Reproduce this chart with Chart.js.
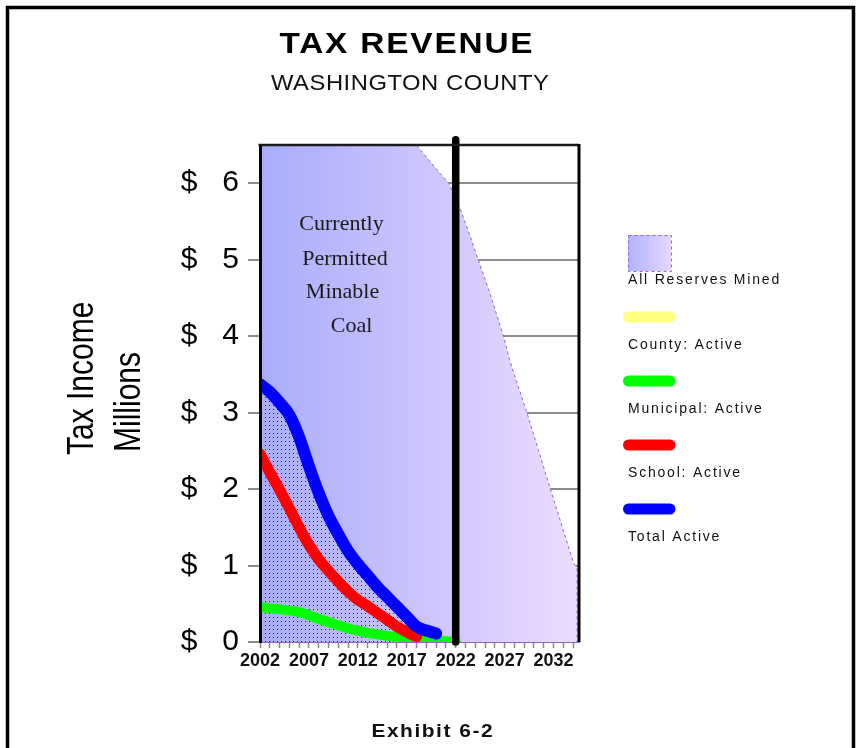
<!DOCTYPE html>
<html>
<head>
<meta charset="utf-8">
<title>Tax Revenue - Washington County</title>
<script src="https://cdn.jsdelivr.net/npm/chart.js@4"></script>
<style>
  html, body { margin: 0; padding: 0; background: #fff; }
  canvas { display: block; }
</style>
</head>
<body>
<canvas id="chart" width="857" height="748"></canvas>
<script>
// Annual tax income from active mining, millions of dollars
const totalYears = [2002, 2003, 2004, 2005, 2006, 2007, 2008, 2009, 2010, 2011, 2012, 2013, 2014, 2015, 2016, 2017, 2018, 2019, 2020];
const totalActive = [3.37, 3.27, 3.13, 2.97, 2.68, 2.30, 1.95, 1.65, 1.41, 1.19, 1.02, 0.87, 0.72, 0.59, 0.46, 0.33, 0.20, 0.15, 0.11];

const schoolYears = [2002, 2003, 2004, 2005, 2006, 2007, 2008, 2009, 2010, 2011, 2012, 2013, 2014, 2015, 2016, 2017, 2018];
const schoolActive = [2.46, 2.22, 1.99, 1.75, 1.50, 1.27, 1.08, 0.93, 0.79, 0.66, 0.55, 0.47, 0.38, 0.29, 0.20, 0.13, 0.07];

const localYears = [2002, 2003, 2004, 2005, 2006, 2007, 2008, 2009, 2010, 2011, 2012, 2013, 2014, 2015, 2016, 2017, 2018, 2019, 2020, 2021, 2022];
const municipalActive = [0.46, 0.44, 0.43, 0.41, 0.39, 0.35, 0.30, 0.26, 0.22, 0.18, 0.15, 0.12, 0.10, 0.08, 0.07, 0.05, 0.04, 0.03, 0.02, 0.01, 0.00];
const countyActive = [0.45, 0.43, 0.42, 0.40, 0.38, 0.34, 0.29, 0.25, 0.21, 0.17, 0.14, 0.11, 0.09, 0.07, 0.06, 0.04, 0.03, 0.02, 0.01, 0.01, 0.00];

// Outline of the "all reserves mined" projection
const reserveYears = [2002, 2002, 2018, 2019.4, 2020.4, 2021.3, 2022.5, 2023.5, 2024.3, 2025.5, 2026.9, 2027.6, 2029.3, 2031.7, 2034.05, 2034.4, 2034.4];
const reserveValues = [0, 6.5, 6.5, 6.28, 6.13, 6.00, 5.65, 5.30, 5.00, 4.56, 3.99, 3.65, 2.99, 1.99, 1.03, 0.97, 0];

// End of currently permitted mining
const permitEndYear = 2022;
const permitMarkerTop = 6.57;

// Axes
const xMin = 2002;
const xMax = 2034.6;
const labelYears = [2002, 2007, 2012, 2017, 2022, 2027, 2032];
const yMax = 6.5;
const yTickValues = [0, 0.5, 1, 1.5, 2, 2.5, 3, 3.5, 4, 4.5, 5, 5.5, 6, 6.5];

const noteLines = ['Currently', 'Permitted', 'Minable', 'Coal'];

const SANS = 'Arial, "Liberation Sans", sans-serif';
const SERIF = '"Times New Roman", "Liberation Serif", serif';

const tickYears = [];
for (let y = 2002; y <= 2034; y++) tickYears.push(y);

const toPoints = (xs, ys) => ys.map((v, i) => ({ x: xs[i], y: v }));

const canvas = document.getElementById('chart');
const ctx2d = canvas.getContext('2d');

// Small navy dot grid used under the total line
function dotPattern() {
  const tile = document.createElement('canvas');
  tile.width = 4; tile.height = 4;
  const t = tile.getContext('2d');
  t.fillStyle = '#1a1a70';
  t.fillRect(1, 1, 1, 1);
  return ctx2d.createPattern(tile, 'repeat');
}

function reserveGradient(context) {
  const chart = context.chart;
  const a = chart.chartArea;
  if (!a) return 'rgba(0,0,0,0)';
  const g = chart.ctx.createLinearGradient(a.left, 0, a.right, 0);
  g.addColorStop(0, '#a9adfb');
  g.addColorStop(0.6, '#d2c8fc');
  g.addColorStop(1, '#ecdcfd');
  return g;
}

// Centered text with a horizontal stretch and extra letter spacing
function wideText(ctx, text, cx, y, font, sx, spacing, color) {
  ctx.save();
  ctx.font = font;
  ctx.letterSpacing = '0px';
  const w = (ctx.measureText(text).width + (text.length - 1) * spacing) * sx;
  ctx.translate(cx - w / 2, y);
  ctx.scale(sx, 1);
  ctx.letterSpacing = spacing + 'px';
  ctx.fillStyle = color;
  ctx.textAlign = 'left';
  ctx.textBaseline = 'alphabetic';
  ctx.fillText(text, 0, 0);
  ctx.restore();
}

const decor = {
  id: 'decor',
  afterDraw(chart) {
    const ctx = chart.ctx;
    const a = chart.chartArea;
    ctx.save();
    ctx.setLineDash([]);

    // page frame
    ctx.strokeStyle = '#000';
    ctx.lineWidth = 3.5;
    ctx.beginPath();
    ctx.moveTo(7.5, 760); ctx.lineTo(7.5, 7.5); ctx.lineTo(853.5, 7.5); ctx.lineTo(853.5, 760);
    ctx.stroke();

    // plot frame: top and right edges
    ctx.strokeStyle = '#1a1a1a';
    ctx.lineWidth = 2.5;
    ctx.beginPath();
    ctx.moveTo(a.left - 1.5, a.top); ctx.lineTo(a.right, a.top);
    ctx.stroke();
    ctx.strokeStyle = '#000';
    ctx.lineWidth = 3;
    ctx.beginPath();
    ctx.moveTo(a.right, a.top - 1); ctx.lineTo(a.right, a.bottom);
    ctx.stroke();

    // titles
    wideText(ctx, 'TAX REVENUE', 406, 53, 'bold 29px ' + SANS, 1.15, 1.6, '#000');
    wideText(ctx, 'WASHINGTON COUNTY', 410, 90, '22px ' + SANS, 1.08, 0.5, '#111');
    wideText(ctx, 'Exhibit 6-2', 432, 737, 'bold 19px ' + SANS, 1.1, 1.4, '#111');

    // vertical axis title
    ctx.fillStyle = '#000';
    ctx.font = '30px ' + SANS;
    ctx.textAlign = 'left';
    ctx.textBaseline = 'alphabetic';
    [['Tax Income', 93, 455], ['Millions', 140, 452]].forEach(([t, bx, by]) => {
      ctx.save();
      ctx.translate(bx, by);
      ctx.scale(1.25, 1);
      ctx.rotate(-Math.PI / 2);
      ctx.fillText(t, 0, 0);
      ctx.restore();
    });

    // note inside the permitted area
    ctx.font = '22px ' + SERIF;
    ctx.fillStyle = '#1a1a1a';
    ctx.textAlign = 'center';
    const notePos = [[341.5, 230], [345, 265], [342.5, 298], [351.5, 331.5]];
    noteLines.forEach((t, i) => ctx.fillText(t, notePos[i][0], notePos[i][1]));

    // legend, built from the labelled datasets
    const items = chart.data.datasets
      .filter(d => d.label)
      .sort((p, q) => q.order - p.order);
    const lx = 628;
    ctx.textAlign = 'left';
    ctx.textBaseline = 'middle';
    items.forEach((d, i) => {
      let textY;
      if (d.fill === 'origin' && d.borderDash) {
        const sx = lx, sy = 235, sw = 43, sh = 36;
        const g = ctx.createLinearGradient(sx, 0, sx + sw, 0);
        g.addColorStop(0, '#b0b2fc');
        g.addColorStop(1, '#e6d8fc');
        ctx.fillStyle = g;
        ctx.fillRect(sx, sy, sw, sh);
        ctx.setLineDash([3, 3]);
        ctx.strokeStyle = d.borderColor;
        ctx.lineWidth = 1;
        ctx.strokeRect(sx + 0.5, sy + 0.5, sw, sh);
        ctx.setLineDash([]);
        textY = 280;
      } else {
        const ly = 317 + (i - 1) * 64;
        ctx.strokeStyle = d.borderColor;
        ctx.lineWidth = 11;
        ctx.lineCap = 'round';
        ctx.beginPath();
        ctx.moveTo(lx + 0.5, ly); ctx.lineTo(lx + 42, ly);
        ctx.stroke();
        textY = ly + 28;
      }
      ctx.font = '14px ' + SANS;
      ctx.letterSpacing = '1.8px';
      ctx.fillStyle = '#111';
      ctx.fillText(d.label, lx, textY);
      ctx.letterSpacing = '0px';
    });

    ctx.restore();
  }
};

const lineBase = { fill: false, pointRadius: 0, cubicInterpolationMode: 'monotone', borderCapStyle: 'round', borderJoinStyle: 'round' };

new Chart(ctx2d, {
  type: 'line',
  data: {
    datasets: [
      {
        label: 'All Reserves Mined',
        data: toPoints(reserveYears, reserveValues),
        order: 6,
        fill: 'origin',
        backgroundColor: reserveGradient,
        borderColor: '#9263c9',
        borderWidth: 1,
        borderDash: [3, 3],
        tension: 0,
        pointRadius: 0
      },
      Object.assign({}, lineBase, {
        label: 'County: Active',
        data: toPoints(localYears, countyActive),
        order: 5,
        borderColor: '#ffff80',
        borderWidth: 8
      }),
      Object.assign({}, lineBase, {
        label: 'Municipal: Active',
        data: toPoints(localYears, municipalActive),
        order: 4,
        borderColor: '#00ff00',
        borderWidth: 10
      }),
      Object.assign({}, lineBase, {
        label: 'School: Active',
        data: toPoints(schoolYears, schoolActive),
        order: 3,
        borderColor: '#ff0000',
        borderWidth: 11
      }),
      Object.assign({}, lineBase, {
        label: 'Total Active',
        data: toPoints(totalYears, totalActive),
        order: 2,
        borderColor: '#0000ff',
        borderWidth: 12,
        fill: 'origin',
        backgroundColor: dotPattern()
      }),
      {
        data: [{ x: permitEndYear, y: 0 }, { x: permitEndYear, y: permitMarkerTop }],
        order: 1,
        borderColor: '#000',
        borderWidth: 7.5,
        borderCapStyle: 'round',
        tension: 0,
        pointRadius: 0,
        fill: false,
        clip: false
      }
    ]
  },
  options: {
    responsive: false,
    animation: false,
    devicePixelRatio: 1,
    layout: { padding: { top: 145, right: 278, bottom: 0, left: 0 } },
    plugins: {
      legend: { display: false },
      title: { display: false },
      tooltip: { enabled: false },
      filler: { drawTime: 'beforeDatasetsDraw', propagate: false }
    },
    scales: {
      x: {
        type: 'linear',
        min: xMin,
        max: xMax,
        afterBuildTicks: s => { s.ticks = tickYears.map(v => ({ value: v })); },
        afterFit: s => { s.height = 106; },
        ticks: {
          autoSkip: false,
          maxRotation: 0,
          minRotation: 0,
          padding: 2,
          color: '#111',
          font: { family: SANS, size: 18, weight: 'bold' },
          callback: v => labelYears.includes(v) ? String(v) : ''
        },
        grid: { drawOnChartArea: false, drawTicks: true, tickLength: 6, tickColor: '#8a8a8a', tickWidth: 1.5 },
        border: { display: true, color: '#9263c9', width: 1, dash: [3, 3] }
      },
      y: {
        min: 0,
        max: yMax,
        afterBuildTicks: s => { s.ticks = yTickValues.map(v => ({ value: v })); },
        afterFit: s => { s.width = 260; },
        ticks: {
          padding: 9,
          color: '#000',
          font: { family: SANS, size: 30 },
          callback: v => Number.isInteger(v) ? '$   ' + v : ''
        },
        grid: {
          color: c => (c.tick && Number.isInteger(c.tick.value) && c.tick.value > 0) ? '#8c8c8c' : 'rgba(0,0,0,0)',
          lineWidth: 2,
          tickLength: 12,
          tickColor: '#8c8c8c',
          tickWidth: 2
        },
        border: { display: true, color: '#000', width: 3, z: 1 }
      }
    }
  },
  plugins: [decor]
});
</script>
</body>
</html>
